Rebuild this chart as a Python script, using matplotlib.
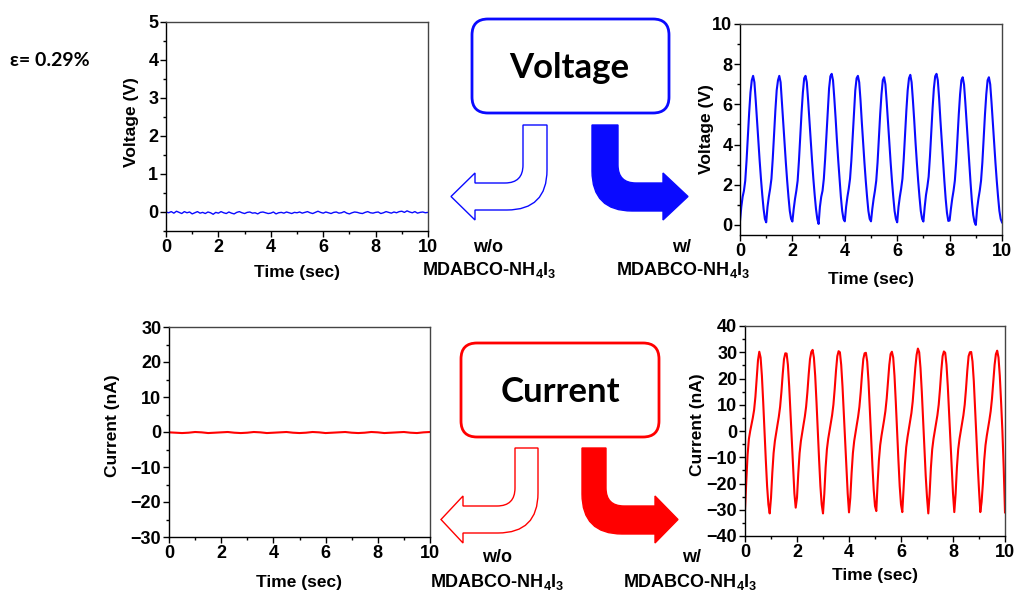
import numpy as np
import matplotlib
matplotlib.use("Agg")
import matplotlib.pyplot as plt
from matplotlib.path import Path
from matplotlib.patches import PathPatch, FancyBboxPatch

plt.rcParams['font.family'] = ['Liberation Sans', 'DejaVu Sans']
plt.rcParams['font.weight'] = 'bold'
plt.rcParams['axes.labelweight'] = 'bold'
plt.rcParams['mathtext.fontset'] = 'custom'
plt.rcParams['mathtext.rm'] = 'Liberation Sans'

# --- data ---
# slow sampling (0.1 s) for the flat "w/o" voltage trace
t_slow = np.arange(101) * 0.1
volt_wo = [0.00, -0.02, 0.01, -0.03, 0.02, -0.01, -0.04, 0.01, -0.02, 0.00,
           -0.05, -0.02, 0.01, -0.03, -0.01, -0.04, 0.00, -0.02, -0.06, -0.01,
           -0.03, 0.01, -0.02, -0.04, 0.00, -0.03, -0.05, -0.01, 0.01, -0.02,
           -0.04, -0.01, 0.00, -0.03, -0.02, -0.05, -0.01, 0.00, -0.02, -0.04,
           -0.03, 0.00, -0.05, -0.02, -0.01, -0.03, 0.00, -0.02, -0.04, -0.01,
           -0.02, 0.00, -0.03, -0.01, 0.01, -0.02, -0.04, -0.01, 0.02, -0.01,
           -0.03, 0.00, -0.02, -0.04, -0.01, 0.00, -0.03, -0.02, 0.01, -0.03,
           -0.05, -0.02, 0.00, -0.01, -0.03, -0.04, -0.01, 0.01, -0.02, -0.03,
           -0.01, 0.00, -0.04, -0.02, 0.01, -0.01, -0.03, 0.00, -0.02, 0.01,
           0.02, -0.01, 0.03, 0.00, -0.02, 0.01, -0.03, -0.01, 0.00, -0.02,
           -0.01]

# flat "w/o" current trace (0.25 s steps)
t_cur_wo = np.arange(41) * 0.25
cur_wo = [-0.1, -0.2, -0.3, -0.2, 0.0, -0.1, -0.3, -0.2, -0.1, 0.0,
          -0.2, -0.3, -0.2, 0.0, -0.1, -0.3, -0.2, -0.1, 0.0, -0.2,
          -0.3, -0.2, 0.0, -0.1, -0.3, -0.2, -0.1, 0.0, -0.2, -0.3,
          -0.2, 0.0, -0.1, -0.3, -0.2, -0.1, 0.0, -0.2, -0.3, -0.1,
          0.0]

# fast sampling (0.05 s) for the oscillating "w/" traces
t_fast = np.arange(201) * 0.05
volt_w = [
    0.20, 0.9, 1.4, 1.7, 2.2, 3.2, 4.4, 5.6, 6.6, 7.2, 7.42, 7.1, 6.2, 5.2, 4.2, 3.2, 2.3, 1.5, 0.8, 0.3,
    0.13, 0.9, 1.4, 1.8, 2.3, 3.3, 4.5, 5.7, 6.7, 7.2, 7.42, 7.1, 6.1, 5.1, 4.1, 3.1, 2.2, 1.4, 0.7, 0.3,
    0.17, 0.8, 1.3, 1.7, 2.2, 3.2, 4.4, 5.6, 6.6, 7.3, 7.42, 7.1, 6.2, 5.2, 4.2, 3.2, 2.3, 1.5, 0.8, 0.3,
    0.05, 0.9, 1.4, 1.7, 2.3, 3.3, 4.5, 5.8, 6.8, 7.4, 7.52, 7.2, 6.3, 5.3, 4.2, 3.2, 2.3, 1.4, 0.7, 0.3,
    0.18, 0.9, 1.4, 1.8, 2.3, 3.2, 4.4, 5.6, 6.7, 7.3, 7.42, 7.1, 6.2, 5.1, 4.1, 3.1, 2.2, 1.4, 0.7, 0.3,
    0.18, 0.8, 1.3, 1.7, 2.2, 3.1, 4.3, 5.5, 6.5, 7.2, 7.35, 7.0, 6.1, 5.1, 4.1, 3.1, 2.2, 1.4, 0.7, 0.3,
    0.13, 0.9, 1.4, 1.8, 2.3, 3.3, 4.5, 5.7, 6.7, 7.3, 7.47, 7.1, 6.2, 5.2, 4.1, 3.1, 2.2, 1.4, 0.7, 0.3,
    0.17, 0.9, 1.5, 1.9, 2.4, 3.4, 4.6, 5.8, 6.8, 7.4, 7.52, 7.2, 6.3, 5.2, 4.2, 3.2, 2.2, 1.3, 0.6, 0.2,
    0.22, 0.8, 1.3, 1.7, 2.2, 3.1, 4.3, 5.5, 6.5, 7.2, 7.35, 7.0, 6.1, 5.1, 4.1, 3.1, 2.1, 1.2, 0.5, 0.15,
    0.00, 0.8, 1.3, 1.7, 2.2, 3.1, 4.3, 5.5, 6.5, 7.2, 7.35, 7.0, 6.1, 5.1, 4.1, 3.1, 2.2, 1.4, 0.7, 0.3,
    0.13]
cur_w = [
    -30, -19, -9, -3, 0, 2.5, 5, 8, 13, 20, 27, 30.2, 28, 21, 11, 0, -11, -21, -28, -31.4,
    -25.5, -16, -8.4, -3.8, -0.6, 2.4, 5.4, 9.2, 14.8, 21.6, 27.4, 29.6, 29.5, 25.2, 17, 6.6, -4.4, -15, -23.8, -29.2,
    -25.4, -16, -8.4, -3.8, -0.6, 2.4, 5.4, 9.2, 14.8, 21.6, 27.4, 30.1, 30.9, 28, 21, 11, 0, -11, -21, -28,
    -31.4, -24, -14, -7, -3, 0, 3, 6, 10, 16, 23, 28.5, 30.4, 30, 25.2, 17, 6.6, -4.4, -15, -23.8,
    -31.0, -25.5, -16, -8.4, -3.8, -0.6, 2.4, 5.4, 9.2, 14.8, 21.6, 27.4, 29.6, 29.8, 26.5, 19, 8.8, -2.2, -13, -22.4,
    -28.6, -30.5, -20, -11.2, -5.4, -1.8, 1.2, 4.2, 7.6, 12.4, 18.8, 25.2, 29.3, 30.2, 28, 21, 11, 0, -11, -21,
    -28, -30.9, -22, -12.6, -6.2, -2.4, 0.6, 3.6, 6.8, 11.2, 17.4, 24.1, 29, 31.4, 30, 24, 15, 4.4, -6.6, -17,
    -25.2, -31.4, -24, -14, -7, -3, 0, 3, 6, 10, 16, 23, 28.5, 30.3, 29.8, 25.2, 17, 6.6, -4.4, -15,
    -23.8, -30.9, -24, -14, -7, -3, 0, 3, 6, 10, 16, 23, 28.5, 30, 30.1, 26.5, 19, 8.8, -2.2, -13,
    -22.4, -30.9, -27, -20, -11.2, -5.4, -1.8, 1.2, 4.2, 7.6, 12.4, 18.8, 25.2, 29.3, 30.6, 28, 21, 11, 0, -14,
    -31]

xticks = [0, 2, 4, 6, 8, 10]
label_sub = r'MDABCO-NH$_\mathrm{4}$I$_\mathrm{3}$'

fig = plt.figure(figsize=(10.19, 5.97), dpi=100)

# overlay axes in pixel coordinates for boxes / arrows / free text
ov = fig.add_axes([0, 0, 1, 1])
ov.set_xlim(0, 1019)
ov.set_ylim(597, 0)
ov.axis('off')


def bent_arrow(x0, x1, ytop, ys0, ys1, xhead, hy0, hy1, xtip, to_left, r_in=18, r_out=40):
    ym = (hy0 + hy1) / 2
    M, L, C, Z = Path.MOVETO, Path.LINETO, Path.CURVE3, Path.CLOSEPOLY
    if to_left:
        v = [(x0, ytop), (x1, ytop), (x1, ys1 - r_out), (x1, ys1), (x1 - r_out, ys1),
             (xhead, ys1), (xhead, hy1), (xtip, ym), (xhead, hy0), (xhead, ys0),
             (x0 - r_in, ys0), (x0, ys0), (x0, ys0 - r_in), (x0, ytop)]
    else:
        v = [(x0, ytop), (x1, ytop), (x1, ys0 - r_in), (x1, ys0), (x1 + r_in, ys0),
             (xhead, ys0), (xhead, hy0), (xtip, ym), (xhead, hy1), (xhead, ys1),
             (x0 + r_out, ys1), (x0, ys1), (x0, ys1 - r_out), (x0, ytop)]
    codes = [M, L, L, C, C, L, L, L, L, L, L, C, C, Z]
    return Path(v, codes)


def scheme(color, box, word, wcenter, yoff_arrow, hollow_x, fill_x):
    bx, by, bw, bh = box
    ov.add_patch(FancyBboxPatch((bx, by), bw, bh, boxstyle="round,pad=0,rounding_size=16",
                                fc='white', ec=color, lw=2.0, mutation_aspect=1))
    ov.text(wcenter[0], wcenter[1], word, ha='center', va='center', fontsize=25,
            family=['Lato', 'Open Sans', 'DejaVu Sans'], fontweight='bold', color='black')
    yt = yoff_arrow
    p1 = bent_arrow(hollow_x[0], hollow_x[1], yt, yt + 58, yt + 85, hollow_x[2],
                    yt + 48, yt + 95, hollow_x[3], True)
    ov.add_patch(PathPatch(p1, fc='white', ec=color, lw=1.0))
    p2 = bent_arrow(fill_x[0], fill_x[1], yt, yt + 58, yt + 86, fill_x[2],
                    yt + 48, yt + 95, fill_x[3], False)
    ov.add_patch(PathPatch(p2, fc=color, ec=color, lw=1.0))


scheme('#0a0aff', (472, 19, 197, 94), 'Voltage', (569, 68), 125,
       (523, 547, 475, 451), (592, 618, 663, 688))
scheme('#ff0000', (461, 343, 198, 94), 'Current', (560, 392), 448,
       (515, 538, 463, 441), (582, 606, 655, 678))

ov.text(10, 60, 'ε= 0.29%', ha='left', va='center', fontsize=14,
        family=['Lato', 'Open Sans', 'DejaVu Sans'], fontweight='bold')

ov.text(488, 248, 'w/o', ha='center', va='center', fontsize=13)
ov.text(489, 270, label_sub, ha='center', va='center', fontsize=13)
ov.text(682, 248, 'w/', ha='center', va='center', fontsize=13)
ov.text(683, 270, label_sub, ha='center', va='center', fontsize=13)
ov.text(497, 558, 'w/o', ha='center', va='center', fontsize=13)
ov.text(497, 582, label_sub, ha='center', va='center', fontsize=13)
ov.text(692, 558, 'w/', ha='center', va='center', fontsize=13)
ov.text(690, 582, label_sub, ha='center', va='center', fontsize=13)


def style(ax, ylim, yticks, yminor, ylabel, ylab_x, ylab_y, xlab_y):
    ax.set_xlim(0, 10)
    ax.set_ylim(*ylim)
    ax.set_xticks(xticks)
    ax.set_xticks(range(0, 11), minor=True)
    ax.set_yticks(yticks)
    ax.set_yticks(yminor, minor=True)
    ax.tick_params(which='major', direction='out', length=4, width=1, labelsize=13, pad=2)
    ax.tick_params(which='minor', direction='out', length=2.5, width=1)
    ax.tick_params(axis='y', pad=1.5)
    ax.set_xlabel('Time (sec)', fontsize=12.5, va='center')
    ax.set_ylabel(ylabel, fontsize=12.5, va='center')
    ax.xaxis.set_label_coords(0.5, xlab_y)
    ax.yaxis.set_label_coords(ylab_x, ylab_y)
    for s in ax.spines.values():
        s.set_linewidth(1.0)
    for s in ('top', 'right'):
        ax.spines[s].set_color('#444444')


ax1 = fig.add_axes([166 / 1019, 1 - 231 / 597, 262 / 1019, 209 / 597])
ax1.plot(t_slow, volt_wo, color='#0a0aff', lw=1.0)
style(ax1, (-0.5, 5), range(0, 6), np.arange(-0.5, 5.01, 0.5), 'Voltage (V)', -0.13, 0.52, -0.20)

ax2 = fig.add_axes([740 / 1019, 1 - 235 / 597, 262 / 1019, 211 / 597])
ax2.plot(t_fast, volt_w, color='#0a0aff', lw=1.5)
style(ax2, (-0.5, 10), range(0, 11, 2), range(0, 11), 'Voltage (V)', -0.126, 0.5, -0.213)

ax3 = fig.add_axes([169 / 1019, 1 - 537 / 597, 261 / 1019, 210 / 597])
ax3.plot(t_cur_wo, cur_wo, color='#ff0000', lw=1.5)
style(ax3, (-30, 30), range(-30, 31, 10), range(-30, 31, 5), 'Current (nA)', -0.218, 0.53, -0.219)

ax4 = fig.add_axes([745 / 1019, 1 - 536 / 597, 260 / 1019, 210 / 597])
ax4.plot(t_fast, cur_w, color='#ff0000', lw=1.5)
style(ax4, (-40, 40), range(-40, 41, 10), range(-40, 41, 5), 'Current (nA)', -0.183, 0.53, -0.186)

fig.savefig('out.png', dpi=100)
